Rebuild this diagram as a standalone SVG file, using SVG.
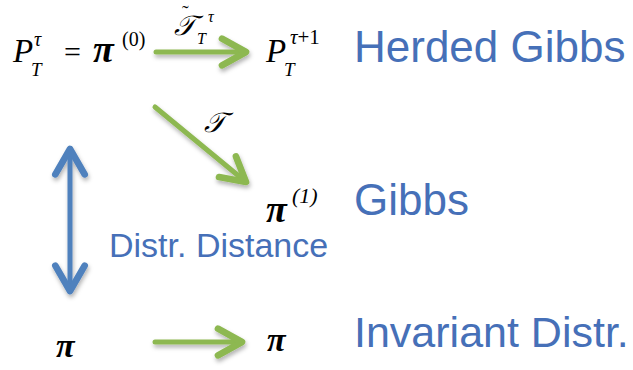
<svg xmlns="http://www.w3.org/2000/svg" width="633" height="370" viewBox="0 0 633 370">
<style>
.lbl{font-family:"Liberation Sans",Arial,sans-serif;fill:#4670B8}
.big{font-size:44px}
.mid{font-size:34px}
.m{font-family:"Liberation Serif","Times New Roman",serif;fill:#000}
.it{font-style:italic}
.pi{font-style:italic;font-weight:bold}
.g{stroke:#8DB851;stroke-width:5;fill:none;stroke-linecap:round;stroke-linejoin:round}
.b{stroke:#4F81BD;stroke-width:5;fill:none;stroke-linecap:round;stroke-linejoin:round}
</style>
<defs>
<filter id="sh" x="-20%" y="-50%" width="140%" height="200%">
<feDropShadow dx="1" dy="3" stdDeviation="2" flood-color="#000" flood-opacity="0.3"/>
</filter>
<marker id="ag" markerUnits="userSpaceOnUse" orient="auto" refX="0" refY="0" markerWidth="40" markerHeight="40" viewBox="-25 -15 30 30" overflow="visible">
<path d="M-18,-10 L0,0 L-18,10" class="g"/>
</marker>
<marker id="ab" markerUnits="userSpaceOnUse" orient="auto-start-reverse" refX="0" refY="0" markerWidth="40" markerHeight="40" viewBox="-25 -15 30 30" overflow="visible">
<path d="M-19,-11 L0,0 L-19,11" class="b"/>
</marker>
</defs>

<g id="connectors" filter="url(#sh)">
<line id="e-top" x1="156" y1="52" x2="246" y2="52" class="g" marker-end="url(#ag)"/>
<line id="e-diag" x1="155" y1="107" x2="246" y2="182" class="g" marker-end="url(#ag)"/>
<line id="e-bottom" x1="155" y1="342" x2="242" y2="342" class="g" marker-end="url(#ag)"/>
<line id="e-dist" x1="70" y1="149" x2="70" y2="291" class="b" marker-start="url(#ab)" marker-end="url(#ab)"/>
</g>

<g id="n-ptau">
<text class="m it" x="13" y="62" font-size="33">P</text>
<text class="m it" x="31" y="76" font-size="19">T</text>
<text class="m it" x="34" y="46" font-size="20">τ</text>
<text class="m" x="64" y="62" font-size="30">=</text>
<text class="m pi" x="93" y="62" font-size="38">π</text>
<text class="m" x="122" y="46" font-size="20">(0)</text>
</g>

<g id="lbl-top">
<text class="m" x="182" y="20" font-size="20">˜</text>
<text class="m it" x="174" y="35" font-size="28">𝒯</text>
<text class="m it" x="197" y="44" font-size="16">T</text>
<text class="m it" x="208" y="22" font-size="16">τ</text>
</g>

<g id="n-ptau1">
<text class="m it" x="266" y="62" font-size="33">P</text>
<text class="m it" x="284" y="76" font-size="19">T</text>
<text class="m" x="290" y="44" font-size="21"><tspan font-style="italic">τ</tspan>+1</text>
</g>

<g id="lbl-diag">
<text class="m it" x="204" y="132" font-size="28">𝒯</text>
</g>

<g id="n-pi1">
<text class="m pi" x="266" y="222" font-size="38">π</text>
<text class="m it" x="292" y="203" font-size="22">(1)</text>
</g>

<g id="n-pi-left">
<text class="m pi" x="56" y="357" font-size="34">π</text>
</g>
<g id="n-pi-right">
<text class="m pi" x="267" y="351" font-size="34">π</text>
</g>

<g id="labels">
<text class="lbl big" x="354" y="62">Herded Gibbs</text>
<text class="lbl big" x="354" y="215">Gibbs</text>
<text class="lbl mid" x="109" y="257">Distr. Distance</text>
<text class="lbl" x="354" y="347" font-size="43">Invariant Distr.</text>
</g>
</svg>
